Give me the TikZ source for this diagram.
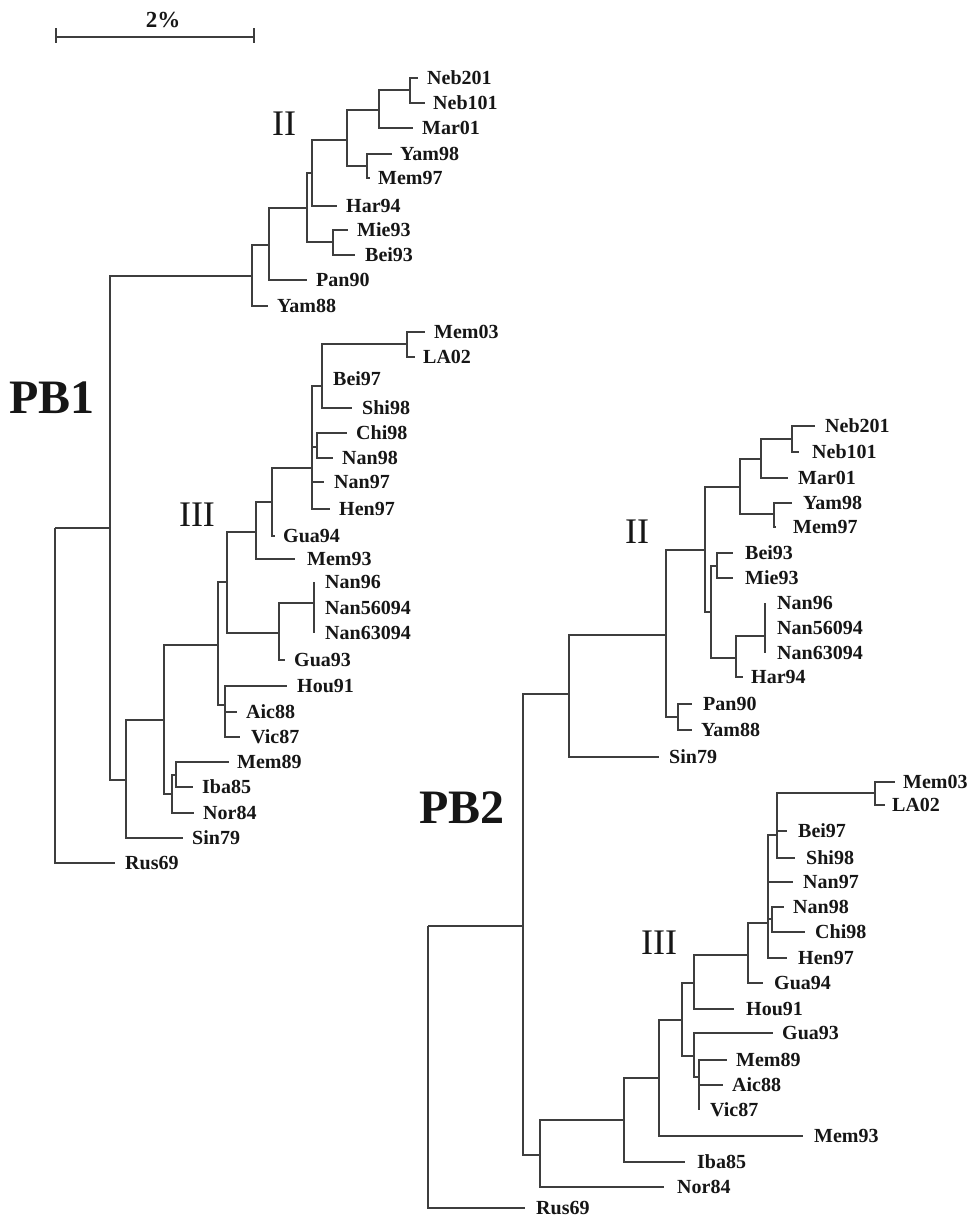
\documentclass[tikz,border=0pt]{standalone}
\usepackage{fontspec}
\setmainfont{Liberation Serif}
\definecolor{branchc}{RGB}{62,62,62}
\definecolor{inkc}{RGB}{22,22,22}

% internal node: name, parent, x, y
\newcommand{\tnode}[4]{%
  \coordinate (#1) at (#3,#4);
  \draw[branch] (#2) |- (#1);}
% leaf: name, parent, branch end x, y, label x, label text
\newcommand{\tleaf}[6]{%
  \coordinate (#1) at (#3,#4);
  \draw[branch] (#2) |- (#1);
  \node[taxon] (#1-lab) at (#5,#4) {#6};}

\begin{document}
\begin{tikzpicture}[x=1pt,y=-1pt,
  branch/.style={draw=branchc,line width=1.6pt},
  taxon/.style={anchor=west,inner sep=0pt,text=inkc,
    font=\fontsize{20}{24}\selectfont\bfseries,text height=13.2pt,text depth=0pt},
  clade/.style={inner sep=0pt,text=inkc,font=\fontsize{36}{40}\selectfont},
  gene/.style={inner sep=0pt,text=inkc,font=\fontsize{48}{52}\selectfont\bfseries},
  scalelab/.style={inner sep=0pt,text=inkc,font=\fontsize{23}{26}\selectfont\bfseries}]
\useasboundingbox (0,0) rectangle (969,1217);

% ---------- scale bar ----------
\coordinate (sb-l) at (56,37);
\coordinate (sb-r) at (254,37);
\draw[branch] (sb-l) -- (sb-r);
\draw[branch] ([yshift=-6pt]sb-l) -- ([yshift=9pt]sb-l);
\draw[branch] ([yshift=-6pt]sb-r) -- ([yshift=9pt]sb-r);
\node[scalelab] (sb-text) at (163,20) {2\%};

% ---------- PB1 tree ----------
\node[gene] (pb1) at (52,398) {PB1};
\node[clade] (a-two) at (284,124) {II};
\node[clade] (a-three) at (197,515) {III};

\coordinate (a-root) at (55,528);
\tnode{a-G}{a-root}{110}{528}
\tleaf{a-rus69}{a-root}{115}{863}{125}{Rus69}
\tnode{a-F}{a-G}{252}{276}
\tnode{a-H}{a-G}{126}{780}
% clade II
\tnode{a-E}{a-F}{269}{245}
\tleaf{a-yam88}{a-F}{268}{306}{277}{Yam88}
\tnode{a-D}{a-E}{307}{208}
\tleaf{a-pan90}{a-E}{307}{280}{316}{Pan90}
\tnode{a-C}{a-D}{312}{173}
\tnode{a-MB}{a-D}{333}{242}
\tleaf{a-mie93}{a-MB}{348}{230}{357}{Mie93}
\tleaf{a-bei93}{a-MB}{355}{255}{365}{Bei93}
\tnode{a-B}{a-C}{347}{140}
\tleaf{a-har94}{a-C}{337}{206}{346}{Har94}
\tnode{a-A}{a-B}{379}{110}
\tnode{a-YM}{a-B}{367}{166}
\tleaf{a-yam98}{a-YM}{392}{154}{400}{Yam98}
\tleaf{a-mem97}{a-YM}{370}{178}{378}{Mem97}
\tnode{a-NB}{a-A}{410}{90}
\tleaf{a-mar01}{a-A}{413}{128}{422}{Mar01}
\tleaf{a-neb201}{a-NB}{418}{78}{427}{Neb201}
\tleaf{a-neb101}{a-NB}{425}{103}{433}{Neb101}
% basal lineages and clade III
\tnode{a-I}{a-H}{164}{720}
\tleaf{a-sin79}{a-H}{183}{838}{192}{Sin79}
\tnode{a-J}{a-I}{218}{645}
\tnode{a-MIN}{a-I}{172}{794}
\tnode{a-MI}{a-MIN}{176}{775}
\tleaf{a-nor84}{a-MIN}{194}{813}{203}{Nor84}
\tleaf{a-mem89}{a-MI}{229}{762}{237}{Mem89}
\tleaf{a-iba85}{a-MI}{193}{787}{202}{Iba85}
\tnode{a-L}{a-J}{227}{582}
\tnode{a-K}{a-J}{225}{705}
\tleaf{a-hou91}{a-K}{287}{686}{297}{Hou91}
\tleaf{a-aic88}{a-K}{237}{712}{246}{Aic88}
\tleaf{a-vic87}{a-K}{240}{737}{251}{Vic87}
\tnode{a-N}{a-L}{256}{532}
\tnode{a-M}{a-L}{279}{633}
\tnode{a-NAN}{a-M}{314}{603}
\tleaf{a-gua93}{a-M}{285}{660}{294}{Gua93}
\tleaf{a-nan96}{a-NAN}{314}{582}{325}{Nan96}
\tleaf{a-nan56094}{a-NAN}{314}{608}{325}{Nan56094}
\tleaf{a-nan63094}{a-NAN}{314}{633}{325}{Nan63094}
\tnode{a-O}{a-N}{272}{502}
\tleaf{a-mem93}{a-N}{295}{559}{307}{Mem93}
\tnode{a-S}{a-O}{312}{468}
\tleaf{a-gua94}{a-O}{275}{536}{283}{Gua94}
\tnode{a-R}{a-S}{322}{386}
\tnode{a-T}{a-S}{317}{447}
\tleaf{a-nan97}{a-S}{324}{482}{334}{Nan97}
\tleaf{a-hen97}{a-S}{330}{509}{339}{Hen97}
\tnode{a-ML}{a-R}{407}{344}
\tleaf{a-bei97}{a-R}{322}{379}{333}{Bei97}
\tleaf{a-shi98}{a-R}{352}{408}{362}{Shi98}
\tleaf{a-mem03}{a-ML}{425}{332}{434}{Mem03}
\tleaf{a-la02}{a-ML}{415}{357}{423}{LA02}
\tleaf{a-chi98}{a-T}{347}{433}{356}{Chi98}
\tleaf{a-nan98}{a-T}{333}{458}{342}{Nan98}

% ---------- PB2 tree ----------
\node[gene] (pb2) at (462,808) {PB2};
\node[clade] (b-two) at (637,532) {II};
\node[clade] (b-three) at (659,943) {III};

\coordinate (b-root) at (428,926);
\tnode{b-H}{b-root}{523}{926}
\tleaf{b-rus69}{b-root}{525}{1208}{536}{Rus69}
\tnode{b-G}{b-H}{569}{694}
\tnode{b-Q}{b-H}{540}{1155}
% clade II
\tnode{b-F}{b-G}{666}{635}
\tleaf{b-sin79}{b-G}{659}{757}{669}{Sin79}
\tnode{b-C}{b-F}{705}{550}
\tnode{b-PY}{b-F}{678}{717}
\tleaf{b-pan90}{b-PY}{692}{704}{703}{Pan90}
\tleaf{b-yam88}{b-PY}{692}{730}{701}{Yam88}
\tnode{b-B}{b-C}{740}{487}
\tnode{b-D}{b-C}{711}{612}
\tnode{b-A}{b-B}{761}{459}
\tnode{b-YM}{b-B}{774}{514}
\tnode{b-NB}{b-A}{792}{439}
\tleaf{b-mar01}{b-A}{788}{478}{798}{Mar01}
\tleaf{b-neb201}{b-NB}{815}{426}{825}{Neb201}
\tleaf{b-neb101}{b-NB}{799}{452}{812}{Neb101}
\tleaf{b-yam98}{b-YM}{792}{503}{803}{Yam98}
\tleaf{b-mem97}{b-YM}{776}{527}{793}{Mem97}
\tnode{b-BM}{b-D}{717}{566}
\tnode{b-E}{b-D}{736}{658}
\tleaf{b-bei93}{b-BM}{733}{553}{745}{Bei93}
\tleaf{b-mie93}{b-BM}{733}{578}{745}{Mie93}
\tnode{b-NAN}{b-E}{765}{636}
\tleaf{b-har94}{b-E}{743}{677}{751}{Har94}
\tleaf{b-nan96}{b-NAN}{765}{603}{777}{Nan96}
\tleaf{b-nan56094}{b-NAN}{765}{628}{777}{Nan56094}
\tleaf{b-nan63094}{b-NAN}{765}{653}{777}{Nan63094}
% basal lineages and clade III
\tnode{b-J}{b-Q}{624}{1120}
\tleaf{b-nor84}{b-Q}{664}{1187}{677}{Nor84}
\tnode{b-K}{b-J}{659}{1078}
\tleaf{b-iba85}{b-J}{685}{1162}{697}{Iba85}
\tnode{b-L}{b-K}{682}{1020}
\tleaf{b-mem93}{b-K}{803}{1136}{814}{Mem93}
\tnode{b-O}{b-L}{694}{983}
\tnode{b-M}{b-L}{694}{1056}
\tleaf{b-gua93}{b-M}{773}{1033}{782}{Gua93}
\tnode{b-N}{b-M}{699}{1077}
\tleaf{b-mem89}{b-N}{727}{1060}{736}{Mem89}
\tleaf{b-aic88}{b-N}{723}{1085}{732}{Aic88}
\tleaf{b-vic87}{b-N}{699}{1110}{710}{Vic87}
\tnode{b-P}{b-O}{748}{955}
\tleaf{b-hou91}{b-O}{734}{1009}{746}{Hou91}
\tnode{b-S}{b-P}{768}{923}
\tleaf{b-gua94}{b-P}{763}{983}{774}{Gua94}
\tnode{b-R}{b-S}{777}{835}
\tnode{b-T}{b-S}{772}{919}
\tleaf{b-nan97}{b-S}{793}{882}{803}{Nan97}
\tleaf{b-hen97}{b-S}{787}{958}{798}{Hen97}
\tnode{b-ML}{b-R}{875}{793}
\tleaf{b-bei97}{b-R}{787}{831}{798}{Bei97}
\tleaf{b-shi98}{b-R}{795}{858}{806}{Shi98}
\tleaf{b-mem03}{b-ML}{895}{782}{903}{Mem03}
\tleaf{b-la02}{b-ML}{885}{805}{892}{LA02}
\tleaf{b-nan98}{b-T}{784}{907}{793}{Nan98}
\tleaf{b-chi98}{b-T}{805}{932}{815}{Chi98}
\end{tikzpicture}
\end{document}
